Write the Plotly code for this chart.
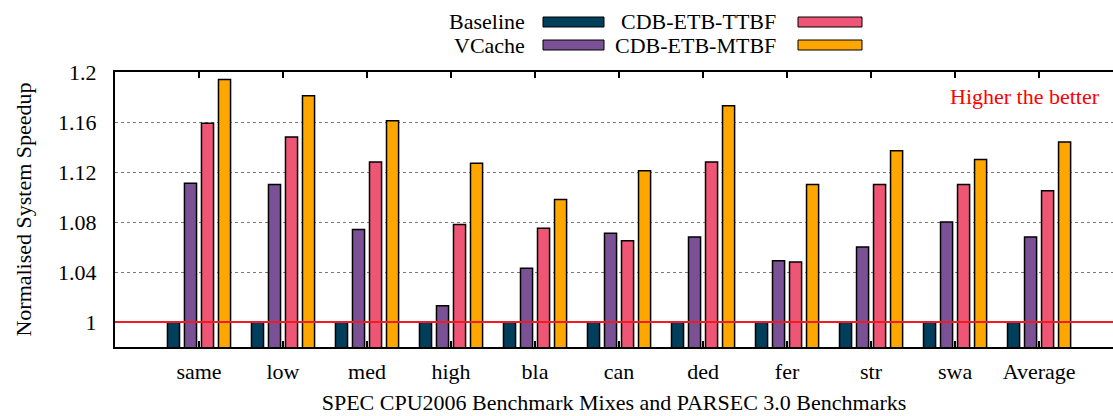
import plotly.graph_objects as go

# Benchmark mixes (SPEC CPU2006) and PARSEC 3.0 workloads
categories = ["same", "low", "med", "high", "bla", "can", "ded", "fer", "str", "swa", "Average"]

baseline = [1.0, 1.0, 1.0, 1.0, 1.0, 1.0, 1.0, 1.0, 1.0, 1.0, 1.0]
vcache = [1.111, 1.110, 1.074, 1.013, 1.043, 1.071, 1.068, 1.049, 1.060, 1.080, 1.068]
cdb_etb_ttbf = [1.159, 1.148, 1.128, 1.078, 1.075, 1.065, 1.128, 1.048, 1.110, 1.110, 1.105]
cdb_etb_mtbf = [1.194, 1.181, 1.161, 1.127, 1.098, 1.121, 1.173, 1.110, 1.137, 1.130, 1.144]

series_names = ["Baseline", "VCache", "CDB-ETB-TTBF", "CDB-ETB-MTBF"]
series_values = [baseline, vcache, cdb_etb_ttbf, cdb_etb_mtbf]
colors = ["#003f5c", "#7a5195", "#ef5675", "#ffa600"]

y_ticks = [1.0, 1.04, 1.08, 1.12, 1.16, 1.2]
y_tick_labels = ["1", "1.04", "1.08", "1.12", "1.16", "1.2"]

W, H = 1113, 416
ML, MR, MT, MB = 115, 0, 72, 69
PW, PH = W - ML - MR, H - MT - MB
FONT = "Liberation Serif, Times New Roman, serif"


def px_x(px):
    return (px - ML) / PW


def px_y(py):
    return (H - MB - py) / PH


fig = go.Figure()
for name, vals, col in zip(series_names, series_values, colors):
    fig.add_trace(go.Bar(
        x=categories, y=vals, name=name,
        marker=dict(color=col, line=dict(color="black", width=1.5)),
        showlegend=False,
    ))

# reference line at speedup 1
fig.add_shape(type="line", xref="paper", yref="y", x0=0, x1=1, y0=1, y1=1,
              line=dict(color="#f01c24", width=2), layer="above")

# two-row legend: label on the left, swatch on the right
legend_items = [
    ("Baseline", colors[0], 527, 543, 604, 22),
    ("VCache", colors[1], 527, 543, 604, 45),
    ("CDB-ETB-TTBF", colors[2], 778, 798, 862, 22),
    ("CDB-ETB-MTBF", colors[3], 778, 798, 862, 45),
]
annotations = []
for label, col, tx, sx0, sx1, cy in legend_items:
    annotations.append(dict(
        text=label, xref="paper", yref="paper", x=px_x(tx), y=px_y(cy),
        xanchor="right", yanchor="middle", showarrow=False,
        font=dict(family=FONT, size=22, color="black"),
    ))
    fig.add_shape(type="rect", xref="paper", yref="paper",
                  x0=px_x(sx0), x1=px_x(sx1), y0=px_y(cy + 5), y1=px_y(cy - 5),
                  fillcolor=col, line=dict(color="black", width=1))

annotations.append(dict(
    text="Higher the better", xref="paper", yref="paper",
    x=px_x(1102), y=px_y(96), xanchor="right", yanchor="middle",
    showarrow=False, font=dict(family=FONT, size=22, color="#ff0000"),
))

fig.update_layout(
    width=W, height=H,
    margin=dict(l=ML, r=MR, t=MT, b=MB, pad=0),
    paper_bgcolor="white", plot_bgcolor="white",
    barmode="group", bargap=0.19, bargroupgap=0.29,
    font=dict(family=FONT, size=22, color="black"),
    annotations=annotations,
)
fig.update_xaxes(
    type="category", range=[-1, 10.88],
    showline=True, linecolor="black", linewidth=2, mirror="ticks",
    ticks="inside", ticklen=6, tickwidth=2, tickcolor="black",
    showgrid=False, ticklabelstandoff=4,
    title=dict(text="SPEC CPU2006 Benchmark Mixes and PARSEC 3.0 Benchmarks",
               font=dict(family=FONT, size=22), standoff=11),
)
fig.update_yaxes(
    range=[0.98, 1.2], tickvals=y_ticks, ticktext=y_tick_labels,
    showline=True, linecolor="black", linewidth=2, mirror=False,
    ticks="", showgrid=True, gridcolor="#7a7a7a", griddash="dot", gridwidth=1,
    zeroline=False, ticklabelstandoff=12,
    title=dict(text="Normalised System Speedup", font=dict(family=FONT, size=22), standoff=20),
)

fig.write_html("out.html")
